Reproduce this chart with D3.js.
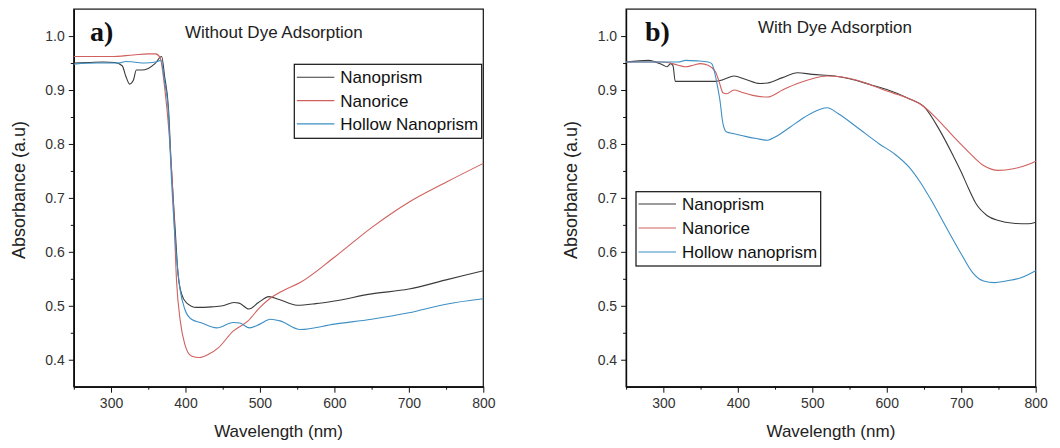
<!DOCTYPE html>
<html>
<head>
<meta charset="utf-8">
<script src="https://cdn.jsdelivr.net/npm/d3@7"></script>
<style>
  body { margin: 0; background: #fff; }
  svg { display: block; }
  text { font-family: "Liberation Sans", Arial, sans-serif; }
</style>
</head>
<body>
<svg id="chart"></svg>
<script>
var width = 1060;
var height = 448;

var seriesNames = ["Nanoprism", "Nanorice", "Hollow Nanoprism"];
var seriesNamesB = ["Nanoprism", "Nanorice", "Hollow nanoprism"];
var seriesColors = ["#3a3a3a", "#d0605e", "#3d8fc4"];

var xTicks = [300, 400, 500, 600, 700, 800];
var yTicks = [0.4, 0.5, 0.6, 0.7, 0.8, 0.9, 1.0];

// panel a) - without dye adsorption
var aNanoprism = [
  [250, 0.950], [270, 0.951], [290, 0.952], [305, 0.951], [315, 0.945], [320, 0.925],
  [325, 0.911], [330, 0.918], [334, 0.937], [341, 0.937], [350, 0.940], [359, 0.949],
  [368, 0.962], [372, 0.925], [377, 0.869], [381, 0.757], [386, 0.645], [390, 0.559],
  [395, 0.521], [401, 0.506], [415, 0.497], [435, 0.498], [450, 0.500], [465, 0.506],
  [472, 0.505], [485, 0.494], [498, 0.506], [512, 0.517], [525, 0.512], [550, 0.501],
  [575, 0.504], [600, 0.509], [650, 0.522], [700, 0.531], [750, 0.548], [800, 0.565]
];
var aNanorice = [
  [250, 0.962], [300, 0.962], [330, 0.965], [350, 0.967], [360, 0.967], [366, 0.960],
  [372, 0.905], [378, 0.820], [384, 0.683], [388, 0.546], [393, 0.472], [399, 0.429],
  [408, 0.407], [419, 0.404], [431, 0.410], [444, 0.422], [464, 0.453], [484, 0.472],
  [500, 0.497], [513, 0.513], [531, 0.528], [554, 0.543], [600, 0.590], [650, 0.645],
  [700, 0.692], [750, 0.729], [800, 0.764]
];
var aHollow = [
  [250, 0.948], [280, 0.950], [310, 0.950], [320, 0.953], [330, 0.952], [345, 0.950],
  [360, 0.952], [367, 0.955], [372, 0.915], [377, 0.860], [381, 0.740], [388, 0.590],
  [393, 0.528], [399, 0.494], [408, 0.475], [420, 0.469], [442, 0.459], [464, 0.469],
  [473, 0.468], [486, 0.459], [500, 0.466], [514, 0.475], [527, 0.472], [554, 0.456],
  [600, 0.466], [650, 0.475], [700, 0.487], [750, 0.503], [800, 0.513]
];

// panel b) - with dye adsorption
var bNanoprism = [
  [250, 0.952], [280, 0.955], [300, 0.946], [305, 0.943], [310, 0.949], [313, 0.945],
  [316, 0.916], [340, 0.916], [370, 0.916], [380, 0.919], [395, 0.926], [410, 0.920],
  [430, 0.912], [440, 0.913], [460, 0.923], [480, 0.932], [500, 0.929], [530, 0.926],
  [550, 0.921], [580, 0.909], [600, 0.901], [630, 0.884], [650, 0.869], [670, 0.828],
  [690, 0.776], [700, 0.748], [710, 0.717], [720, 0.689], [735, 0.667], [750, 0.658],
  [770, 0.653], [790, 0.652], [800, 0.655]
];
var bNanorice = [
  [250, 0.952], [300, 0.952], [320, 0.946], [330, 0.943], [340, 0.946], [350, 0.949],
  [360, 0.946], [370, 0.934], [375, 0.915], [380, 0.895], [385, 0.893], [395, 0.900],
  [405, 0.896], [420, 0.890], [440, 0.887], [460, 0.900], [480, 0.912], [500, 0.921],
  [520, 0.926], [540, 0.924], [560, 0.918], [600, 0.898], [630, 0.884], [650, 0.869],
  [670, 0.843], [690, 0.813], [710, 0.785], [730, 0.760], [750, 0.751], [770, 0.754],
  [790, 0.762], [800, 0.768]
];
var bHollow = [
  [250, 0.952], [300, 0.952], [320, 0.952], [330, 0.955], [345, 0.954], [360, 0.952],
  [365, 0.949], [372, 0.912], [376, 0.881], [380, 0.838], [385, 0.822], [395, 0.819],
  [410, 0.814], [425, 0.810], [440, 0.807], [450, 0.813], [470, 0.831], [490, 0.850],
  [510, 0.864], [520, 0.867], [535, 0.856], [560, 0.831], [590, 0.800], [610, 0.782],
  [630, 0.757], [645, 0.729], [660, 0.695], [680, 0.645], [700, 0.596], [715, 0.562],
  [730, 0.546], [745, 0.543], [760, 0.546], [780, 0.552], [800, 0.565]
];

var svg = d3.select("#chart").attr("width", width).attr("height", height);

function drawPanel(opts) {
  var x = d3.scaleLinear().domain([250, 800]).range([opts.left, opts.right]);
  var y = d3.scaleLinear().domain([0.35, 1.05]).range([386.7, 9.1]);
  var g = svg.append("g");

  // minor ticks
  g.append("g")
    .attr("transform", "translate(0," + y(0.35) + ")")
    .call(d3.axisBottom(x).tickValues(d3.range(250, 801, 100)).tickSize(3).tickFormat("").tickSizeOuter(0));
  g.append("g")
    .attr("transform", "translate(" + x(250) + ",0)")
    .call(d3.axisLeft(y).tickValues([0.45, 0.55, 0.65, 0.75, 0.85, 0.95]).tickSize(3).tickFormat("").tickSizeOuter(0));

  // major ticks
  g.append("g")
    .attr("transform", "translate(0," + y(0.35) + ")")
    .call(d3.axisBottom(x).tickValues(xTicks).tickSize(6).tickPadding(5).tickSizeOuter(0));
  g.append("g")
    .attr("transform", "translate(" + x(250) + ",0)")
    .call(d3.axisLeft(y).tickValues(yTicks).tickSize(5).tickPadding(4).tickFormat(d3.format(".1f")).tickSizeOuter(0));

  g.selectAll(".tick text")
    .style("font-family", "'Liberation Sans', Arial, sans-serif")
    .style("font-size", "14px")
    .attr("fill", "#333");
  g.selectAll(".tick line").attr("stroke", "#111");

  // frame
  g.append("rect")
    .attr("x", x(250)).attr("y", y(1.05))
    .attr("width", x(800) - x(250)).attr("height", y(0.35) - y(1.05))
    .attr("fill", "none").attr("stroke", "#111").attr("stroke-width", 1.2);

  var line = d3.line()
    .x(function (d) { return x(d[0]); })
    .y(function (d) { return y(d[1]); })
    .curve(d3.curveMonotoneX);

  opts.series.forEach(function (s, i) {
    g.append("path")
      .datum(s)
      .attr("d", line)
      .attr("fill", "none")
      .attr("stroke", seriesColors[i])
      .attr("stroke-width", 1.1);
  });

  // panel letter
  g.append("text")
    .attr("x", opts.letterX).attr("y", 41)
    .style("font-family", "'Liberation Serif', 'Times New Roman', serif")
    .style("font-weight", "bold")
    .style("font-size", "28px")
    .attr("fill", "#111")
    .text(opts.letter);

  // panel title
  g.append("text")
    .attr("x", opts.titleX).attr("y", opts.titleY)
    .style("font-size", "17px")
    .attr("fill", "#222")
    .text(opts.title);

  // axis titles
  g.append("text")
    .attr("x", (opts.left + opts.right) / 2).attr("y", 437)
    .style("text-anchor", "middle")
    .style("font-size", "17px")
    .attr("fill", "#222")
    .text("Wavelength (nm)");
  g.append("text")
    .attr("transform", "translate(" + (opts.left - 49) + ",190) rotate(-90)")
    .style("text-anchor", "middle")
    .style("font-size", "18px")
    .attr("fill", "#222")
    .text("Absorbance (a.u)");

  // legend
  var lg = g.append("g").attr("transform", "translate(" + opts.legX + "," + opts.legY + ")");
  lg.append("rect")
    .attr("width", opts.legW).attr("height", opts.legH)
    .attr("fill", "#fff").attr("stroke", "#111").attr("stroke-width", 1.2);
  opts.names.forEach(function (name, i) {
    var cy = opts.legRow0 + i * opts.legStep;
    lg.append("line")
      .attr("x1", 2.5).attr("x2", 40).attr("y1", cy).attr("y2", cy)
      .attr("stroke", seriesColors[i]).attr("stroke-width", 1.1);
    lg.append("text")
      .attr("x", 46).attr("y", cy).attr("dy", "0.35em")
      .style("font-size", "17px")
      .attr("fill", "#111")
      .text(name);
  });
}

drawPanel({
  left: 73.8, right: 483.3,
  series: [aNanoprism, aNanorice, aHollow],
  names: seriesNames,
  letter: "a)", letterX: 90,
  title: "Without Dye Adsorption", titleX: 185, titleY: 38,
  legX: 294.3, legY: 64.3, legW: 187.4, legH: 74, legRow0: 13, legStep: 23.3
});

drawPanel({
  left: 626.1, right: 1035.7,
  series: [bNanoprism, bNanorice, bHollow],
  names: seriesNamesB,
  letter: "b)", letterX: 645,
  title: "With Dye Adsorption", titleX: 758, titleY: 33,
  legX: 636, legY: 191.7, legW: 184.7, legH: 74.3, legRow0: 12.3, legStep: 24
});
</script>
</body>
</html>
